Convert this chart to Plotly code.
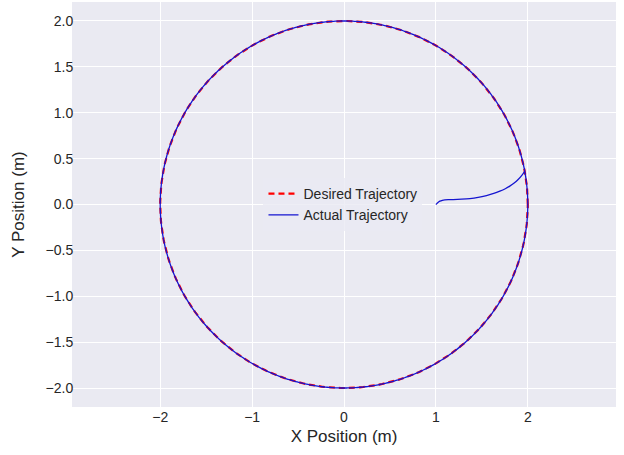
import numpy as np
import plotly.graph_objects as go

# Desired trajectory: circle of radius 2 about the origin
radius = 2.0
theta_desired = np.linspace(0, 2 * np.pi, 361)
desired_x = radius * np.cos(theta_desired)
desired_y = radius * np.sin(theta_desired)

transient_x = [1.000, 1.007, 1.020, 1.043, 1.070, 1.098, 1.140, 1.188, 1.280, 1.370, 1.460,
               1.551, 1.630, 1.696, 1.755, 1.804, 1.852, 1.895, 1.935, 1.967]
transient_y = [0.000, 0.007, 0.020, 0.036, 0.046, 0.051, 0.053, 0.054, 0.058, 0.065, 0.078,
               0.098, 0.120, 0.145, 0.172, 0.200, 0.234, 0.272, 0.318, 0.363]
join_angle = float(np.arctan2(0.39, 1.962))
theta_track = np.linspace(join_angle, join_angle + 2 * np.pi, 361)
actual_x = list(transient_x) + list(radius * np.cos(theta_track))
actual_y = list(transient_y) + list(radius * np.sin(theta_track))

x_ticks = [-2, -1, 0, 1, 2]
y_ticks = [-2.0, -1.5, -1.0, -0.5, 0.0, 0.5, 1.0, 1.5, 2.0]

fig = go.Figure()
fig.add_trace(go.Scatter(x=desired_x, y=desired_y, mode="lines", name="Desired Trajectory",
                         line=dict(color="red", width=2.2, dash="6px,4px")))
fig.add_trace(go.Scatter(x=actual_x, y=actual_y, mode="lines", name="Actual Trajectory",
                         line=dict(color="#1515d0", width=1.3, shape="spline", smoothing=0.6)))

font = "Liberation Sans, Arial, sans-serif"
fig.update_layout(
    width=624, height=455,
    margin=dict(l=72, r=8, t=2, b=48),
    paper_bgcolor="white", plot_bgcolor="#EAEAF2",
    font=dict(family=font, color="#262626", size=14),
    showlegend=True,
    legend=dict(x=0.352, y=0.5, xanchor="left", yanchor="middle",
                bgcolor="rgba(234,234,242,0.8)", font=dict(size=14, color="#262626"),
                tracegroupgap=0, itemwidth=30),
    xaxis=dict(range=[-2.96, 2.96], tickvals=x_ticks, ticktext=["\u22122", "\u22121", "0", "1", "2"],
               showgrid=True, gridcolor="white", gridwidth=1.2, zeroline=False, showline=False,
               ticks="", tickfont=dict(size=14),
               title=dict(text="X Position (m)", font=dict(size=17), standoff=6)),
    yaxis=dict(range=[-2.207, 2.207], tickvals=y_ticks,
               ticktext=[("\u2212" if v < 0 else "") + f"{abs(v):.1f}" for v in y_ticks],
               showgrid=True, gridcolor="white", gridwidth=1.2, zeroline=False, showline=False,
               ticks="outside", ticklen=0, tickcolor="rgba(0,0,0,0)",
               tickfont=dict(size=14), ticklabelstandoff=-5,
               title=dict(text="Y Position (m)", font=dict(size=17), standoff=16)),
)
fig.write_html("out.html")
